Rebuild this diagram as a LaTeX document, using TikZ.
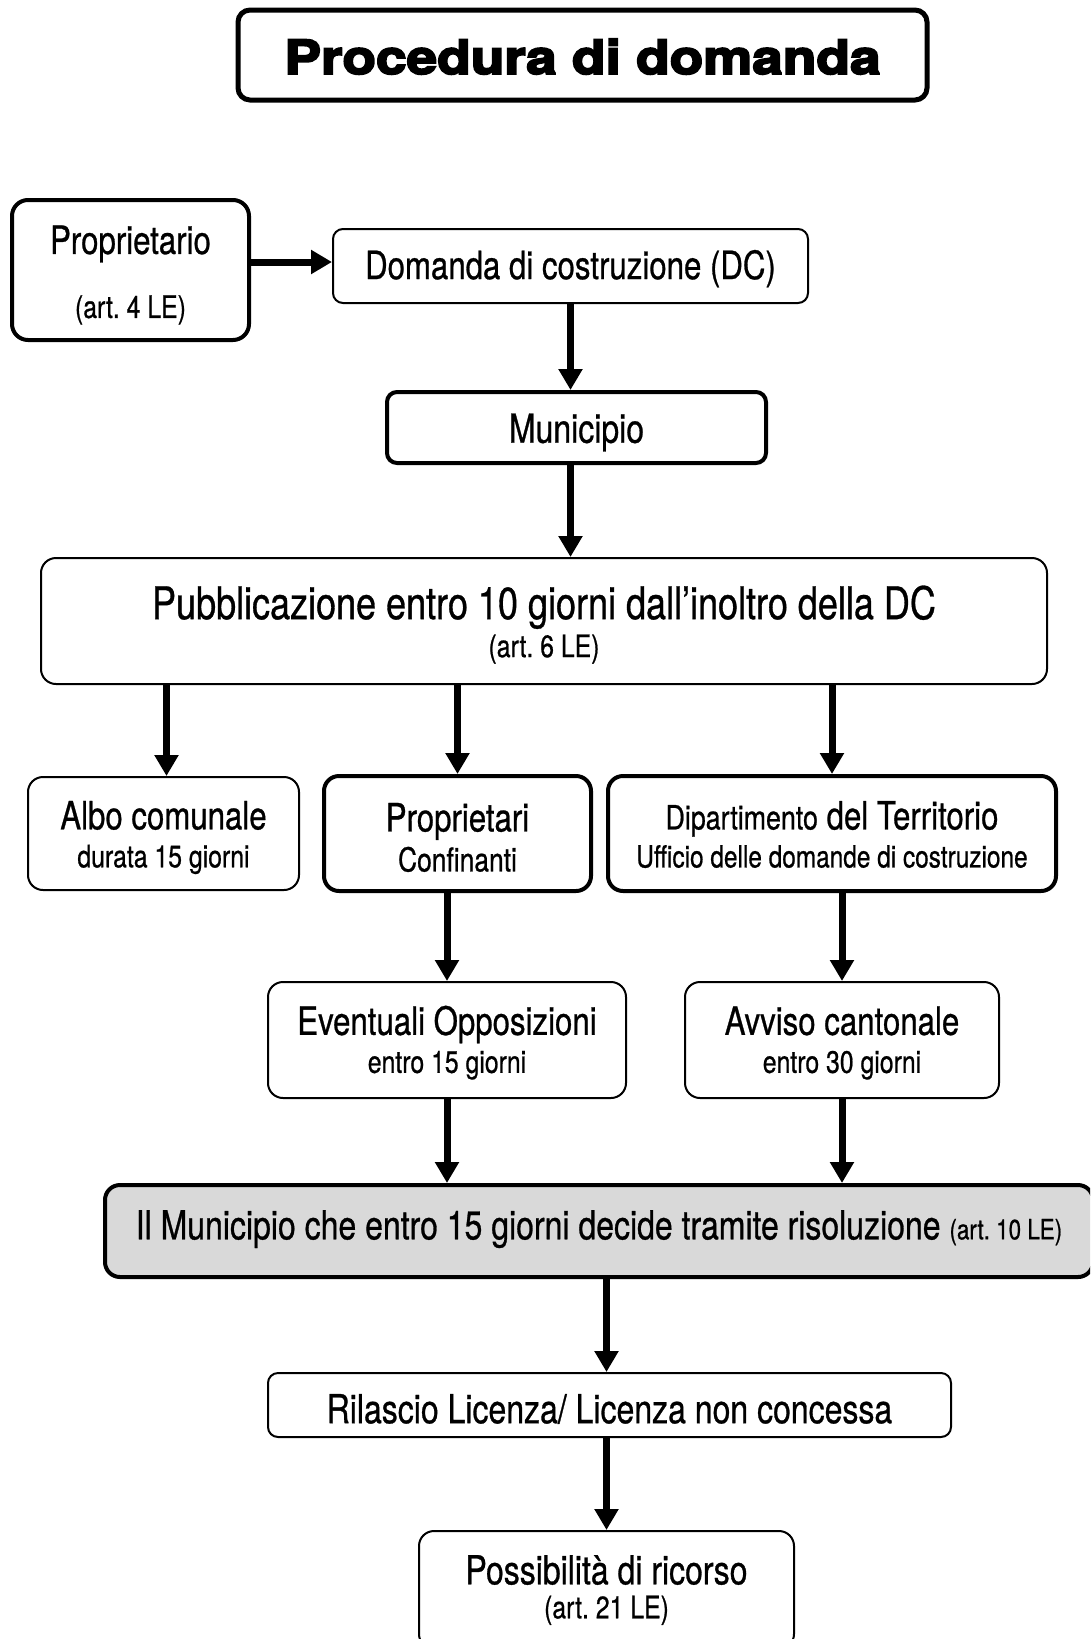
\documentclass[tikz,border=0pt]{standalone}
\usepackage{fontspec}
\setmainfont{TeX Gyre Heros}[FakeStretch=0.8, FakeBold=0.7]
\newfontfamily\titlefont{TeX Gyre Heros}[FakeStretch=1.17, BoldFeatures={FakeBold=4}]
\usetikzlibrary{arrows.meta}
\definecolor{boxgray}{HTML}{D9D9D9}
\newcommand\fsz[1]{\fontsize{#1}{38}\selectfont}
% push a line down by #1 (strut taller than the line)
\newcommand\dn[1]{\rule{0pt}{\dimexpr\fontcharht\font`\(+#1*2\relax}}
% push a line up by enlarging its depth
\newcommand\upby[1]{\rule[\dimexpr-\fontchardp\font`\(-#1*2\relax]{0pt}{1pt}}
\begin{document}
\begin{tikzpicture}[x=1pt,y=-1pt,
  bx/.style={draw, rounded corners=12pt, align=center, inner sep=0pt, line width=2pt, font=\fsz{39}},
  bxthick/.style={bx, line width=4pt},
  arr/.style={line width=7pt, -{Triangle[length=21pt,width=23pt]}},
]
\useasboundingbox (0,0) rectangle (1090,1639);
\clip (0,0) rectangle (1090,1639);

\node[bxthick, line width=5pt, minimum width=689pt, minimum height=90pt] (title) at (582.5,55)
  {\titlefont\bfseries\fontsize{47}{50}\selectfont\dn{2pt}Procedura di domanda};

\node[bxthick, rounded corners=16pt, minimum width=237pt, minimum height=140pt] (prop) at (130.5,270)
  {\fsz{39}\dn{5pt}Proprietario\\[26pt]\fsz{31}(art.~4 LE)};

\node[bx, rounded corners=10pt, minimum width=475pt, minimum height=74pt] (dom) at (570.5,266)
  {\fsz{39}\dn{3pt}Domanda di costruzione (DC)};

\node[bxthick, rounded corners=10pt, minimum width=379pt, minimum height=71pt] (mun) at (576.5,427.5)
  {\fsz{40}\dn{5pt}Municipio};

\node[bx, rounded corners=15pt, minimum width=1006pt, minimum height=126pt] (pub) at (544,621)
  {\fsz{45}\dn{4pt}Pubblicazione entro 10 giorni dall’inoltro della DC\\\fsz{31}(art.~6 LE)};

\node[bx, rounded corners=15pt, minimum width=271pt, minimum height=113pt] (albo) at (163.5,833.5)
  {\fsz{39}\dn{4pt}Albo comunale\\\fsz{31}durata 15 giorni};

\node[bxthick, rounded corners=15pt, minimum width=267pt, minimum height=115pt] (propc) at (457.5,833.5)
  {\fsz{39}\dn{4pt}Proprietari\\[2pt]\fsz{33}Confinanti};

\node[bxthick, rounded corners=15pt, minimum width=448pt, minimum height=115pt] (dip) at (832,833.5)
  {{\fsz{33.5}\dn{3pt}Dipartimento} {\fsz{39}del Territorio}\\\fsz{30.5}Ufficio delle domande di costruzione};

\node[bx, rounded corners=15pt, minimum width=358pt, minimum height=116pt] (event) at (447,1040)
  {\fsz{39}\dn{3pt}Eventuali Opposizioni\\\fsz{31}entro 15 giorni};

\node[bx, rounded corners=15pt, minimum width=314pt, minimum height=116pt] (avviso) at (842,1040)
  {\fsz{39}\dn{3pt}Avviso cantonale\\\fsz{31}entro 30 giorni};

\node[bxthick, fill=boxgray, rounded corners=15pt, minimum width=988pt, minimum height=92pt] (ilmun) at (599,1231)
  {\fsz{40}\upby{2pt}Il Municipio che entro 15 giorni decide tramite risoluzione {\fsz{28}(art.~10 LE)}};

\node[bx, rounded corners=10pt, minimum width=683pt, minimum height=64pt] (ril) at (609.5,1405)
  {\fsz{40}\dn{4pt}Rilascio Licenza/ Licenza non concessa};

\node[bx, rounded corners=15pt, minimum width=375pt, minimum height=118pt] (poss) at (606.5,1590)
  {\fsz{40}\dn{0pt}Possibilità di ricorso\\[-4pt]\fsz{31}(art.~21 LE)};

\draw[arr] ([yshift=8pt]prop.east) -- ([yshift=8pt]prop.east -| dom.west);
\draw[arr] (dom.south) -- (dom.south |- mun.north);
\draw[arr] (mun.south -| dom.south) -- (pub.north -| dom.south);
\draw[arr] ([xshift=3pt]albo.north |- pub.south) -- ([xshift=3pt]albo.north);
\draw[arr] (pub.south -| propc.north) -- (propc.north);
\draw[arr] (pub.south -| dip.north) -- (dip.north);
\draw[arr] (propc.south -| event.north) -- (event.north);
\draw[arr] (dip.south -| avviso.north) -- (avviso.north);
\draw[arr] (event.south) -- (event.south |- ilmun.north);
\draw[arr] (avviso.south) -- (avviso.south |- ilmun.north);
\draw[arr] (ilmun.south -| poss.north) -- (ril.north -| poss.north);
\draw[arr] (ril.south -| poss.north) -- (poss.north);
\end{tikzpicture}
\end{document}
